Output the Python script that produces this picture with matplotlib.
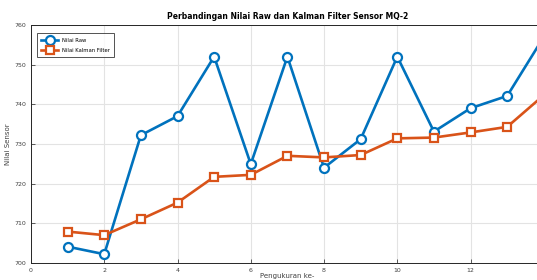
import numpy as np
import matplotlib
matplotlib.use('Agg')
from matplotlib import pyplot as plt

# data
pengukuran = list(range(1, 15))
nilai_raw = [704.1, 702.2, 732.2, 737.0, 752.0, 724.9, 752.0, 724.0, 731.2, 752.0, 733.1, 739.0, 742.1, 757.0]
nilai_kalman = [707.9, 707.0, 711.0, 715.2, 721.7, 722.2, 727.0, 726.6, 727.2, 731.4, 731.6, 732.9, 734.3, 742.3]

fig = plt.figure(figsize=(5.37, 2.8), dpi=100)
ax = fig.add_axes([0.0577, 0.061, 0.955, 0.850])

ax.plot(pengukuran, nilai_raw, color='#0072BD', lw=1.9, marker='o', ms=6.5,
        mfc='white', mew=1.6, label='Nilai Raw')
ax.plot(pengukuran, nilai_kalman, color='#D95319', lw=1.9, marker='s', ms=5.5,
        mfc='white', mew=1.6, label='Nilai Kalman Filter')

ax.set_xlim(0, 14)
ax.set_ylim(700, 760)
ax.set_xticks(range(0, 14, 2))
ax.set_yticks(range(700, 761, 10))
ax.grid(True, color='#e3e3e3', lw=0.8)
ax.set_axisbelow(True)
ax.tick_params(direction='in', labelsize=4.5, colors='#404040', length=3, width=0.6)
for s in ax.spines.values():
    s.set_color('#262626')
    s.set_linewidth(0.7)

ax.set_title('Perbandingan Nilai Raw dan Kalman Filter Sensor MQ-2', fontsize=5.5,
             fontweight='bold', pad=4)
ax.set_xlabel('Pengukuran ke-', fontsize=5, labelpad=0, color='#404040')
ax.set_ylabel('Nilai Sensor', fontsize=5, labelpad=2, color='#404040')

leg = ax.legend(loc='upper left', fontsize=3.8, frameon=True, fancybox=False,
                edgecolor='#262626', borderpad=0.9, handlelength=3.2,
                handletextpad=0.6, labelspacing=0.9, bbox_to_anchor=(0.006, 0.977))
leg.get_frame().set_linewidth(0.7)

fig.savefig('out.png', dpi=100)
